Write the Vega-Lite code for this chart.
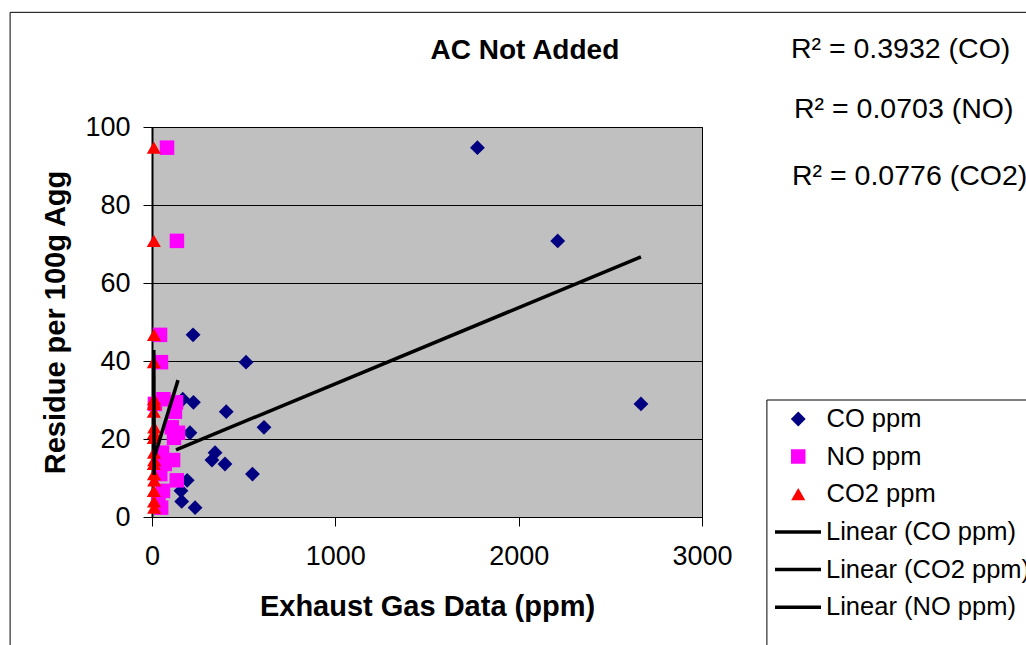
{
  "$schema": "https://vega.github.io/schema/vega-lite/v6.json",
  "width": 550,
  "height": 390,
  "autosize": {"type": "none"},
  "padding": {"left": 152, "top": 127, "right": 324, "bottom": 128},
  "background": "white",
  "config": {
    "font": "Liberation Sans",
    "view": {"fill": "#C0C0C0", "stroke": "#000000", "strokeWidth": 1},
    "axis": {"labelFont": "Liberation Sans", "labelFontSize": 27, "labelColor": "black", "titleFont": "Liberation Sans", "titleFontSize": 29, "titleFontWeight": "bold", "titleColor": "black", "tickColor": "black", "tickSize": 9, "domainColor": "black", "labelFlush": false, "labelOverlap": false, "format": "d"},
    "axisX": {"grid": false, "labelPadding": 17, "titlePadding": 23, "domainWidth": 1},
    "axisY": {"grid": true, "gridColor": "black", "gridOpacity": 1, "gridWidth": 1, "labelPadding": 13, "titlePadding": 14, "domainWidth": 2}
  },
  "datasets": {
    "points": [
      {"series": "CO ppm", "ppm": 1775, "residue": 94.7},
      {"series": "CO ppm", "ppm": 2213, "residue": 70.8},
      {"series": "CO ppm", "ppm": 224, "residue": 46.7},
      {"series": "CO ppm", "ppm": 513, "residue": 39.7},
      {"series": "CO ppm", "ppm": 168, "residue": 30.2},
      {"series": "CO ppm", "ppm": 226, "residue": 29.4},
      {"series": "CO ppm", "ppm": 2667, "residue": 29.0},
      {"series": "CO ppm", "ppm": 405, "residue": 27.0},
      {"series": "CO ppm", "ppm": 611, "residue": 23.0},
      {"series": "CO ppm", "ppm": 207, "residue": 21.6},
      {"series": "CO ppm", "ppm": 131, "residue": 20.3},
      {"series": "CO ppm", "ppm": 344, "residue": 16.5},
      {"series": "CO ppm", "ppm": 327, "residue": 14.6},
      {"series": "CO ppm", "ppm": 398, "residue": 13.6},
      {"series": "CO ppm", "ppm": 548, "residue": 11.0},
      {"series": "CO ppm", "ppm": 192, "residue": 9.4},
      {"series": "CO ppm", "ppm": 158, "residue": 6.7},
      {"series": "CO ppm", "ppm": 162, "residue": 4.0},
      {"series": "CO ppm", "ppm": 235, "residue": 2.4},
      {"series": "NO ppm", "ppm": 82, "residue": 94.7},
      {"series": "NO ppm", "ppm": 136, "residue": 70.8},
      {"series": "NO ppm", "ppm": 44, "residue": 46.7},
      {"series": "NO ppm", "ppm": 49, "residue": 39.7},
      {"series": "NO ppm", "ppm": 62, "residue": 30.2},
      {"series": "NO ppm", "ppm": 131, "residue": 29.4},
      {"series": "NO ppm", "ppm": 16, "residue": 29.0},
      {"series": "NO ppm", "ppm": 125, "residue": 27.0},
      {"series": "NO ppm", "ppm": 108, "residue": 23.0},
      {"series": "NO ppm", "ppm": 142, "residue": 21.6},
      {"series": "NO ppm", "ppm": 120, "residue": 20.3},
      {"series": "NO ppm", "ppm": 55, "residue": 16.5},
      {"series": "NO ppm", "ppm": 115, "residue": 14.6},
      {"series": "NO ppm", "ppm": 70, "residue": 13.6},
      {"series": "NO ppm", "ppm": 45, "residue": 11.0},
      {"series": "NO ppm", "ppm": 135, "residue": 9.4},
      {"series": "NO ppm", "ppm": 60, "residue": 6.7},
      {"series": "NO ppm", "ppm": 35, "residue": 4.0},
      {"series": "NO ppm", "ppm": 50, "residue": 2.4},
      {"series": "CO2 ppm", "ppm": 10, "residue": 94.7},
      {"series": "CO2 ppm", "ppm": 10, "residue": 70.8},
      {"series": "CO2 ppm", "ppm": 11, "residue": 46.7},
      {"series": "CO2 ppm", "ppm": 10, "residue": 39.7},
      {"series": "CO2 ppm", "ppm": 11, "residue": 30.2},
      {"series": "CO2 ppm", "ppm": 12, "residue": 29.4},
      {"series": "CO2 ppm", "ppm": 11, "residue": 29.0},
      {"series": "CO2 ppm", "ppm": 10, "residue": 27.0},
      {"series": "CO2 ppm", "ppm": 12, "residue": 23.0},
      {"series": "CO2 ppm", "ppm": 11, "residue": 21.6},
      {"series": "CO2 ppm", "ppm": 10, "residue": 20.3},
      {"series": "CO2 ppm", "ppm": 11, "residue": 16.5},
      {"series": "CO2 ppm", "ppm": 12, "residue": 14.6},
      {"series": "CO2 ppm", "ppm": 10, "residue": 13.6},
      {"series": "CO2 ppm", "ppm": 11, "residue": 11.0},
      {"series": "CO2 ppm", "ppm": 12, "residue": 9.4},
      {"series": "CO2 ppm", "ppm": 10, "residue": 6.7},
      {"series": "CO2 ppm", "ppm": 11, "residue": 4.0},
      {"series": "CO2 ppm", "ppm": 12, "residue": 2.4}
    ],
    "trends": [
      {"series": "Linear (CO ppm)", "ppm": 131, "residue": 17.2},
      {"series": "Linear (CO ppm)", "ppm": 2667, "residue": 66.7},
      {"series": "Linear (NO ppm)", "ppm": 16, "residue": 15.9},
      {"series": "Linear (NO ppm)", "ppm": 142, "residue": 35.1},
      {"series": "Linear (CO2 ppm)", "ppm": 10, "residue": 42.8},
      {"series": "Linear (CO2 ppm)", "ppm": 12, "residue": 10.8}
    ]
  },
  "layer": [
    {
      "data": {"values": [{"box": "chart frame"}]},
      "mark": {"type": "rect", "fillOpacity": 0, "stroke": "black", "strokeWidth": 1},
      "encoding": {
        "x": {"datum": -774, "type": "quantitative", "scale": {"domain": [0, 3000], "nice": false}, "title": "Exhaust Gas Data (ppm)"},
        "x2": {"datum": 4900},
        "y": {"datum": 129.4, "type": "quantitative", "scale": {"domain": [0, 100], "nice": false}, "title": "Residue per 100g Agg"},
        "y2": {"datum": -40}
      }
    },
    {
      "data": {"values": [{"box": "legend frame"}]},
      "mark": {"type": "rect", "fill": "white", "stroke": "black", "strokeWidth": 1},
      "encoding": {
        "x": {"datum": 3354, "type": "quantitative", "scale": {"domain": [0, 3000], "nice": false}, "title": "Exhaust Gas Data (ppm)"},
        "x2": {"datum": 4900},
        "y": {"datum": 30, "type": "quantitative", "scale": {"domain": [0, 100], "nice": false}, "title": "Residue per 100g Agg"},
        "y2": {"datum": -40}
      }
    },
    {
      "data": {"name": "points"},
      "mark": {"type": "point", "filled": true, "opacity": 1},
      "encoding": {
        "x": {"field": "ppm", "type": "quantitative", "scale": {"domain": [0, 3000], "nice": false}, "axis": {"values": [0, 1000, 2000, 3000]}, "title": "Exhaust Gas Data (ppm)"},
        "y": {"field": "residue", "type": "quantitative", "scale": {"domain": [0, 100], "nice": false}, "axis": {"values": [0, 20, 40, 60, 80, 100]}, "title": "Residue per 100g Agg"},
        "size": {"field": "series", "type": "nominal", "scale": {"domain": ["CO ppm", "NO ppm", "CO2 ppm"], "range": [220, 200, 270]}, "legend": null},
        "color": {
          "field": "series", "type": "nominal",
          "scale": {"domain": ["CO ppm", "NO ppm", "CO2 ppm"], "range": ["#000080", "#FF00FF", "#FF0000"]},
          "legend": {
            "title": null, "orient": "none", "legendX": 633.5, "legendY": 274, "direction": "vertical",
            "padding": 0, "labelFont": "Liberation Sans", "labelFontSize": 25.5, "labelColor": "black", "labelLimit": 500,
            "symbolOffset": 0, "labelOffset": 15.5, "clipHeight": 36, "rowPadding": 1.6, "symbolOpacity": 1, "symbolSize": 110
          }
        },
        "shape": {
          "field": "series", "type": "nominal",
          "scale": {"domain": ["CO ppm", "NO ppm", "CO2 ppm"], "range": ["diamond", "square", "triangle-up"]},
          "legend": {
            "title": null, "orient": "none", "legendX": 633.5, "legendY": 274, "direction": "vertical",
            "padding": 0, "labelFont": "Liberation Sans", "labelFontSize": 25.5, "labelColor": "black", "labelLimit": 500,
            "symbolOffset": 0, "labelOffset": 15.5, "clipHeight": 36, "rowPadding": 1.6, "symbolOpacity": 1, "symbolSize": 110
          }
        }
      }
    },
    {
      "data": {"name": "trends"},
      "mark": {"type": "line", "strokeWidth": 3.5},
      "encoding": {
        "x": {"field": "ppm", "type": "quantitative", "scale": {"domain": [0, 3000], "nice": false}, "title": "Exhaust Gas Data (ppm)"},
        "y": {"field": "residue", "type": "quantitative", "scale": {"domain": [0, 100], "nice": false}, "title": "Residue per 100g Agg"},
        "stroke": {
          "field": "series", "type": "nominal",
          "scale": {"domain": ["Linear (CO ppm)", "Linear (CO2 ppm)", "Linear (NO ppm)"], "range": ["#000000", "#000000", "#000000"]},
          "legend": {
            "title": null, "orient": "none", "legendX": 621, "legendY": 387, "direction": "vertical",
            "padding": 0, "labelFont": "Liberation Sans", "labelFontSize": 25.5, "labelColor": "black", "labelLimit": 500,
            "symbolType": "stroke", "symbolOffset": 0, "labelOffset": 3, "clipHeight": 36, "rowPadding": 1.6,
            "symbolSize": 2116, "symbolStrokeWidth": 3.5
          }
        }
      }
    },
    {
      "data": {"values": [{"label": "AC Not Added"}]},
      "mark": {"type": "text", "align": "center", "baseline": "alphabetic", "font": "Liberation Sans", "fontSize": 28, "fontWeight": "bold", "color": "black"},
      "encoding": {
        "x": {"datum": 2034, "type": "quantitative", "scale": {"domain": [0, 3000], "nice": false}, "title": "Exhaust Gas Data (ppm)"},
        "y": {"datum": 117.4, "type": "quantitative", "scale": {"domain": [0, 100], "nice": false}, "title": "Residue per 100g Agg"},
        "text": {"field": "label"}
      }
    },
    {
      "data": {"values": [{"label": "R² = 0.3932 (CO)"}]},
      "mark": {"type": "text", "align": "left", "baseline": "alphabetic", "font": "Liberation Sans", "fontSize": 28.5, "color": "black"},
      "encoding": {
        "x": {"datum": 3485, "type": "quantitative", "scale": {"domain": [0, 3000], "nice": false}, "title": "Exhaust Gas Data (ppm)"},
        "y": {"datum": 117.7, "type": "quantitative", "scale": {"domain": [0, 100], "nice": false}, "title": "Residue per 100g Agg"},
        "text": {"field": "label"}
      }
    },
    {
      "data": {"values": [{"label": "R² = 0.0703 (NO)"}]},
      "mark": {"type": "text", "align": "left", "baseline": "alphabetic", "font": "Liberation Sans", "fontSize": 28.5, "color": "black"},
      "encoding": {
        "x": {"datum": 3502, "type": "quantitative", "scale": {"domain": [0, 3000], "nice": false}, "title": "Exhaust Gas Data (ppm)"},
        "y": {"datum": 102.3, "type": "quantitative", "scale": {"domain": [0, 100], "nice": false}, "title": "Residue per 100g Agg"},
        "text": {"field": "label"}
      }
    },
    {
      "data": {"values": [{"label": "R² = 0.0776 (CO2)"}]},
      "mark": {"type": "text", "align": "left", "baseline": "alphabetic", "font": "Liberation Sans", "fontSize": 28.5, "color": "black"},
      "encoding": {
        "x": {"datum": 3491, "type": "quantitative", "scale": {"domain": [0, 3000], "nice": false}, "title": "Exhaust Gas Data (ppm)"},
        "y": {"datum": 85.1, "type": "quantitative", "scale": {"domain": [0, 100], "nice": false}, "title": "Residue per 100g Agg"},
        "text": {"field": "label"}
      }
    }
  ]
}
